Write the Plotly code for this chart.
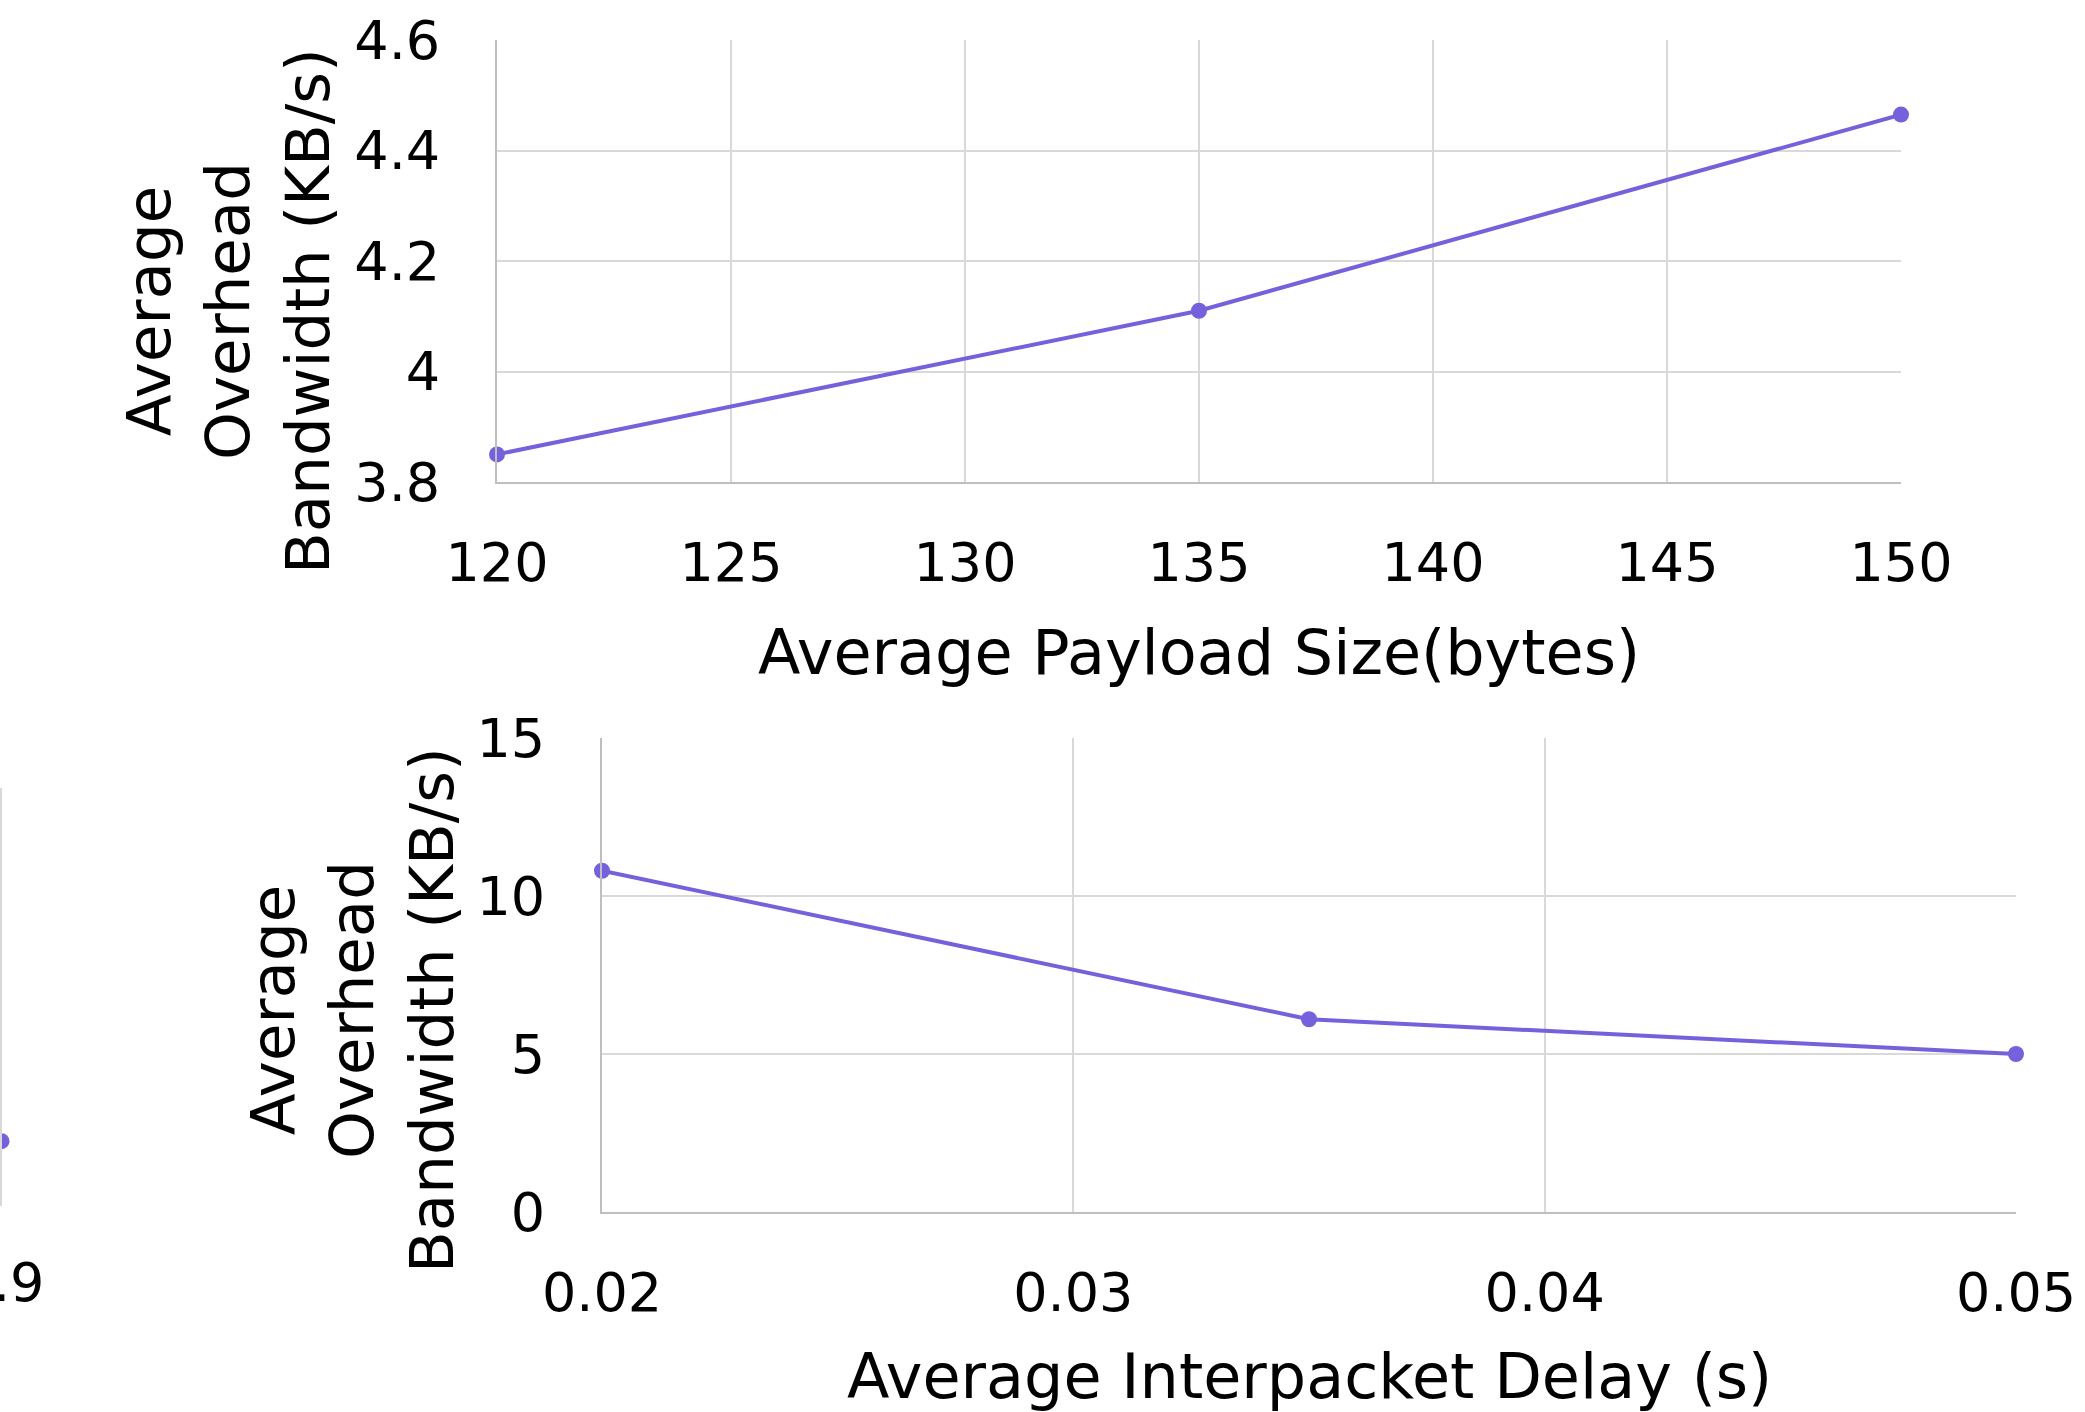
import plotly.graph_objects as go

# ---- data ----
payload_x = [120, 135, 150]
payload_y = [3.85, 4.11, 4.465]
payload_xticks = [120, 125, 130, 135, 140, 145, 150]
payload_yticks = [3.8, 4.0, 4.2, 4.4, 4.6]
payload_yticktext = ["3.8", "4", "4.2", "4.4", "4.6"]

delay_x = [0.02, 0.035, 0.05]
delay_y = [10.8, 6.1, 5.0]
delay_xticks = [0.02, 0.03, 0.04, 0.05]
delay_xticktext = ["0.02", "0.03", "0.04", "0.05"]
delay_yticks = [0, 5, 10, 15]

# partially visible neighbouring chart (cut off at the left edge)
left_x = [0.9]
left_y = [3.1]
left_xticks = [0.9]
left_xticktext = ["0.9"]

W, H = 2085, 1412
FONT = "DejaVu Sans"
FS = 54
XTFS = 62
YTFS = 61
PURPLE = "#7461db"
GRID = "#d9d9d9"
AXIS = "#bfbfbf"

def px(x):
    return x / W

def py(y):
    return 1 - y / H

fig = go.Figure()

line_style = dict(color=PURPLE, width=4)
marker_style = dict(color=PURPLE, size=16)

fig.add_trace(go.Scatter(x=payload_x, y=payload_y, mode="lines+markers",
                         line=line_style, marker=marker_style,
                         cliponaxis=False, xaxis="x", yaxis="y", showlegend=False))
fig.add_trace(go.Scatter(x=delay_x, y=delay_y, mode="lines+markers",
                         line=line_style, marker=marker_style,
                         cliponaxis=False, xaxis="x2", yaxis="y2", showlegend=False))
fig.add_trace(go.Scatter(x=left_x, y=left_y, mode="markers",
                         marker=marker_style,
                         cliponaxis=False, xaxis="x3", yaxis="y3", showlegend=False))

tickfont = dict(family=FONT, size=FS, color="#000000")

common_x = dict(showgrid=True, gridcolor=GRID, gridwidth=2, showline=True,
                linecolor=AXIS, linewidth=2, zeroline=False, ticks="",
                tickfont=tickfont, ticklabelstandoff=32, automargin=False,
                ticklabeloverflow="allow")
common_y = dict(showgrid=True, gridcolor=GRID, gridwidth=2, showline=True,
                linecolor=AXIS, linewidth=2, zeroline=False, ticks="",
                tickfont=tickfont, ticklabelstandoff=44, automargin=False,
                ticklabeloverflow="allow")

fig.update_layout(
    width=W, height=H,
    margin=dict(l=0, r=0, t=0, b=0, autoexpand=False),
    paper_bgcolor="white", plot_bgcolor="white",
    font=dict(family=FONT, size=FS, color="#000000"),
    xaxis=dict(domain=[px(497), px(1901)], range=[120, 150], anchor="y",
               tickvals=payload_xticks, **common_x),
    yaxis=dict(domain=[py(482), py(40)], range=[3.8, 4.6], anchor="x",
               tickvals=payload_yticks, ticktext=payload_yticktext, **common_y),
    xaxis2=dict(domain=[px(602), px(2016)], range=[0.02, 0.05], anchor="y2",
                tickvals=delay_xticks, ticktext=delay_xticktext, **common_x),
    yaxis2=dict(domain=[py(1212), py(738)], range=[0, 15], anchor="x2",
                tickvals=delay_yticks, **common_y),
    xaxis3=dict(domain=[0, px(1.5)], range=[0.8, 0.9], anchor="y3",
                tickvals=left_xticks, ticktext=left_xticktext,
                showgrid=False, showline=False, zeroline=False, ticks="",
                tickfont=tickfont, ticklabelstandoff=40, automargin=False,
                ticklabeloverflow="allow"),
    yaxis3=dict(domain=[py(1206), py(788)], range=[0, 20], anchor="x3",
                showgrid=False, showline=False, zeroline=False,
                showticklabels=False, automargin=False),
    shapes=[dict(type="line", xref="paper", yref="paper",
                 x0=px(1), x1=px(1), y0=py(1206), y1=py(788),
                 line=dict(color=GRID, width=2))],
)

xt_font = dict(family=FONT, size=XTFS, color="#000000")
yt_font = dict(family=FONT, size=YTFS, color="#000000")
fig.add_annotation(x=px(1199), y=py(652), xref="paper", yref="paper",
                   text="Average Payload Size(bytes)", showarrow=False,
                   font=xt_font, xanchor="center", yanchor="middle")
fig.add_annotation(x=px(1309), y=py(1376), xref="paper", yref="paper",
                   text="Average Interpacket Delay (s)", showarrow=False,
                   font=xt_font, xanchor="center", yanchor="middle")
fig.add_annotation(x=px(228), y=py(311), xref="paper", yref="paper",
                   text="Average<br>Overhead<br>Bandwidth (KB/s)", showarrow=False,
                   textangle=-90, font=yt_font, xanchor="center", yanchor="middle")
fig.add_annotation(x=px(352), y=py(1010), xref="paper", yref="paper",
                   text="Average<br>Overhead<br>Bandwidth (KB/s)", showarrow=False,
                   textangle=-90, font=yt_font, xanchor="center", yanchor="middle")

fig.write_html("out.html")
